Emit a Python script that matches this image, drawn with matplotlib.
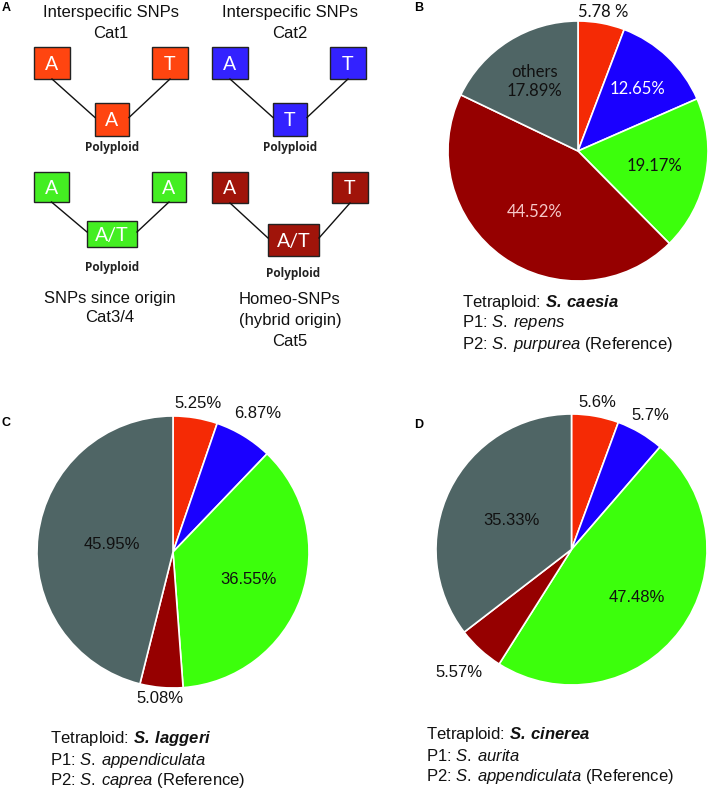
import numpy as np
import matplotlib
matplotlib.use("Agg")
import matplotlib.pyplot as plt
from matplotlib.patches import Rectangle

plt.rcParams['font.family'] = ['Liberation Sans', 'DejaVu Sans']
plt.rcParams['mathtext.fontset'] = 'custom'
plt.rcParams['mathtext.rm'] = 'Liberation Sans'
plt.rcParams['mathtext.it'] = 'Liberation Sans:italic'
plt.rcParams['mathtext.bf'] = 'Liberation Sans:bold'
plt.rcParams['mathtext.bfit'] = 'Liberation Sans:bold:italic'

W, H = 709, 792

# ---------------- data ----------------
categories = ["Cat1", "Cat2", "Cat3/4", "Cat5", "others"]
values_B = [5.78, 12.65, 19.17, 44.52, 17.89]
values_C = [5.25, 6.87, 36.55, 5.08, 45.95]
values_D = [5.6, 5.7, 47.48, 5.57, 35.33]
labels_B = ["5.78 %", "12.65%", "19.17%", "44.52%", "others\n17.89%"]
labels_C = ["5.25%", "6.87%", "36.55%", "5.08%", "45.95%"]
labels_D = ["5.6%", "5.7%", "47.48%", "5.57%", "35.33%"]
species_B = ["S.\\:caesia", "S.\\:repens", "S.\\:purpurea"]
species_C = ["S.\\:laggeri", "S.\\:appendiculata", "S.\\:caprea"]
species_D = ["S.\\:cinerea", "S.\\:aurita", "S.\\:appendiculata"]

pie_colors = ["#F52A05", "#1A00FF", "#3CFF0C", "#960000", "#4F6565"]
box_colors = ["#FF4510", "#3322FF", "#44EE22", "#A0140A"]

fig = plt.figure(figsize=(W / 100, H / 100), dpi=100)
ov = fig.add_axes([0, 0, 1, 1])
ov.set_xlim(0, W)
ov.set_ylim(H, 0)
ov.axis('off')

# ---------------- panel A (schematic) ----------------
diagrams = [
    dict(title=["Interspecific SNPs", "Cat1"], ty=[13, 34], cx=111,
         lb=(34, 47, 36, 32), rb=(152, 47, 36, 32), bb=(95, 103, 34, 33),
         top=("A", "T"), bot="A", py=148, col=box_colors[0]),
    dict(title=["Interspecific SNPs", "Cat2"], ty=[13, 34], cx=290,
         lb=(212, 47, 36, 32), rb=(330, 47, 36, 32), bb=(273, 103, 34, 33),
         top=("A", "T"), bot="T", py=148, col=box_colors[1]),
    dict(title=["SNPs since origin", "Cat3/4"], ty=[298, 318], cx=110,
         lb=(34, 172, 35, 30), rb=(152, 172, 34, 30), bb=(87, 221, 50, 26),
         top=("A", "A"), bot="A/T", py=268, col=box_colors[2]),
    dict(title=["Homeo-SNPs", "(hybrid origin)", "Cat5"], ty=[299, 320, 341], cx=290,
         lb=(212, 172, 36, 31), rb=(332, 172, 36, 31), bb=(268, 224, 51, 32),
         top=("A", "T"), bot="A/T", py=274, col=box_colors[3]),
]

for d in diagrams:
    for t, y in zip(d["title"], d["ty"]):
        ov.text(d["cx"], y, t, ha='center', va='center', fontsize=12, color='#111111')
    for (x, y, w, h), letter in zip([d["lb"], d["rb"], d["bb"]], list(d["top"]) + [d["bot"]]):
        ov.add_patch(Rectangle((x, y), w, h, facecolor=d["col"], edgecolor='#222222', lw=1.0))
        ov.text(x + w / 2, y + h / 2 + 1, letter, ha='center', va='center', fontsize=14,
                color='white', family=['Lato', 'DejaVu Sans'])
    lx, ly, lw_, lh = d["lb"]
    rx, ry, rw, rh = d["rb"]
    bx, by, bw, bh = d["bb"]
    ov.plot([lx + lw_ / 2, bx], [ly + lh, by + bh / 2 - 2], color='#111111', lw=1)
    ov.plot([rx + rw / 2, bx + bw], [ry + rh, by + bh / 2 - 2], color='#111111', lw=1)
    ov.text(bx + bw / 2, d["py"], "Polyploid", ha='center', va='center', fontsize=8.5,
            fontweight='bold', color='#222222', family=['Open Sans', 'DejaVu Sans'])

# panel letters
for letter, (x, y) in zip("ABCD", [(2, 8), (414, 8), (2, 423), (414, 425)]):
    ov.text(x, y, letter, ha='left', va='center', fontsize=9, fontweight='bold')


# ---------------- pies ----------------
def draw_pie(cx, cy, R, values, labels, dists, text_colors, family, species, text_xy):
    ax = fig.add_axes([(cx - R) / W, 1 - (cy + R) / H, 2 * R / W, 2 * R / H])
    wedges, _ = ax.pie(values, colors=pie_colors, startangle=90, counterclock=False,
                       radius=1, wedgeprops=dict(edgecolor='white', linewidth=1.2))
    ax.set_xlim(-1, 1)
    ax.set_ylim(-1, 1)
    ax.set_aspect('equal')
    ax.axis('off')
    for w, lab, dist, tc in zip(wedges, labels, dists, text_colors):
        ang = np.deg2rad((w.theta1 + w.theta2) / 2)
        ax.text(dist * np.cos(ang), dist * np.sin(ang), lab, ha='center', va='center',
                fontsize=12, color=tc, family=family, clip_on=False, linespacing=1.25)
    tx, ty = text_xy
    lines = [r"Tetraploid: $\mathbfit{%s}$" % species[0],
             r"P1: $\mathit{%s}$" % species[1],
             r"P2: $\mathit{%s}$ (Reference)" % species[2]]
    for i, line in enumerate(lines):
        ov.text(tx, ty + i * 21, line, ha='left', va='center', fontsize=12, color='#111111')
    return ax


draw_pie(578, 151, 130, values_B, labels_B, [1.085, 0.66, 0.6, 0.58, 0.63],
         ['#111111', 'white', '#111111', '#F5C8C8', '#111111'], ['Lato', 'DejaVu Sans'],
         species_B, (462, 302))
draw_pie(173, 552, 136, values_C, labels_C, [1.11, 1.19, 0.59, 1.08, 0.45],
         ['#111111'] * 5, ['Liberation Sans', 'DejaVu Sans'], species_C, (50, 739))
draw_pie(571.5, 549.5, 135.5, values_D, labels_D, [1.1, 1.15, 0.6, 1.23, 0.49],
         ['#111111'] * 5, ['Liberation Sans', 'DejaVu Sans'], species_D, (426, 735))

fig.savefig("out.png", dpi=100)
